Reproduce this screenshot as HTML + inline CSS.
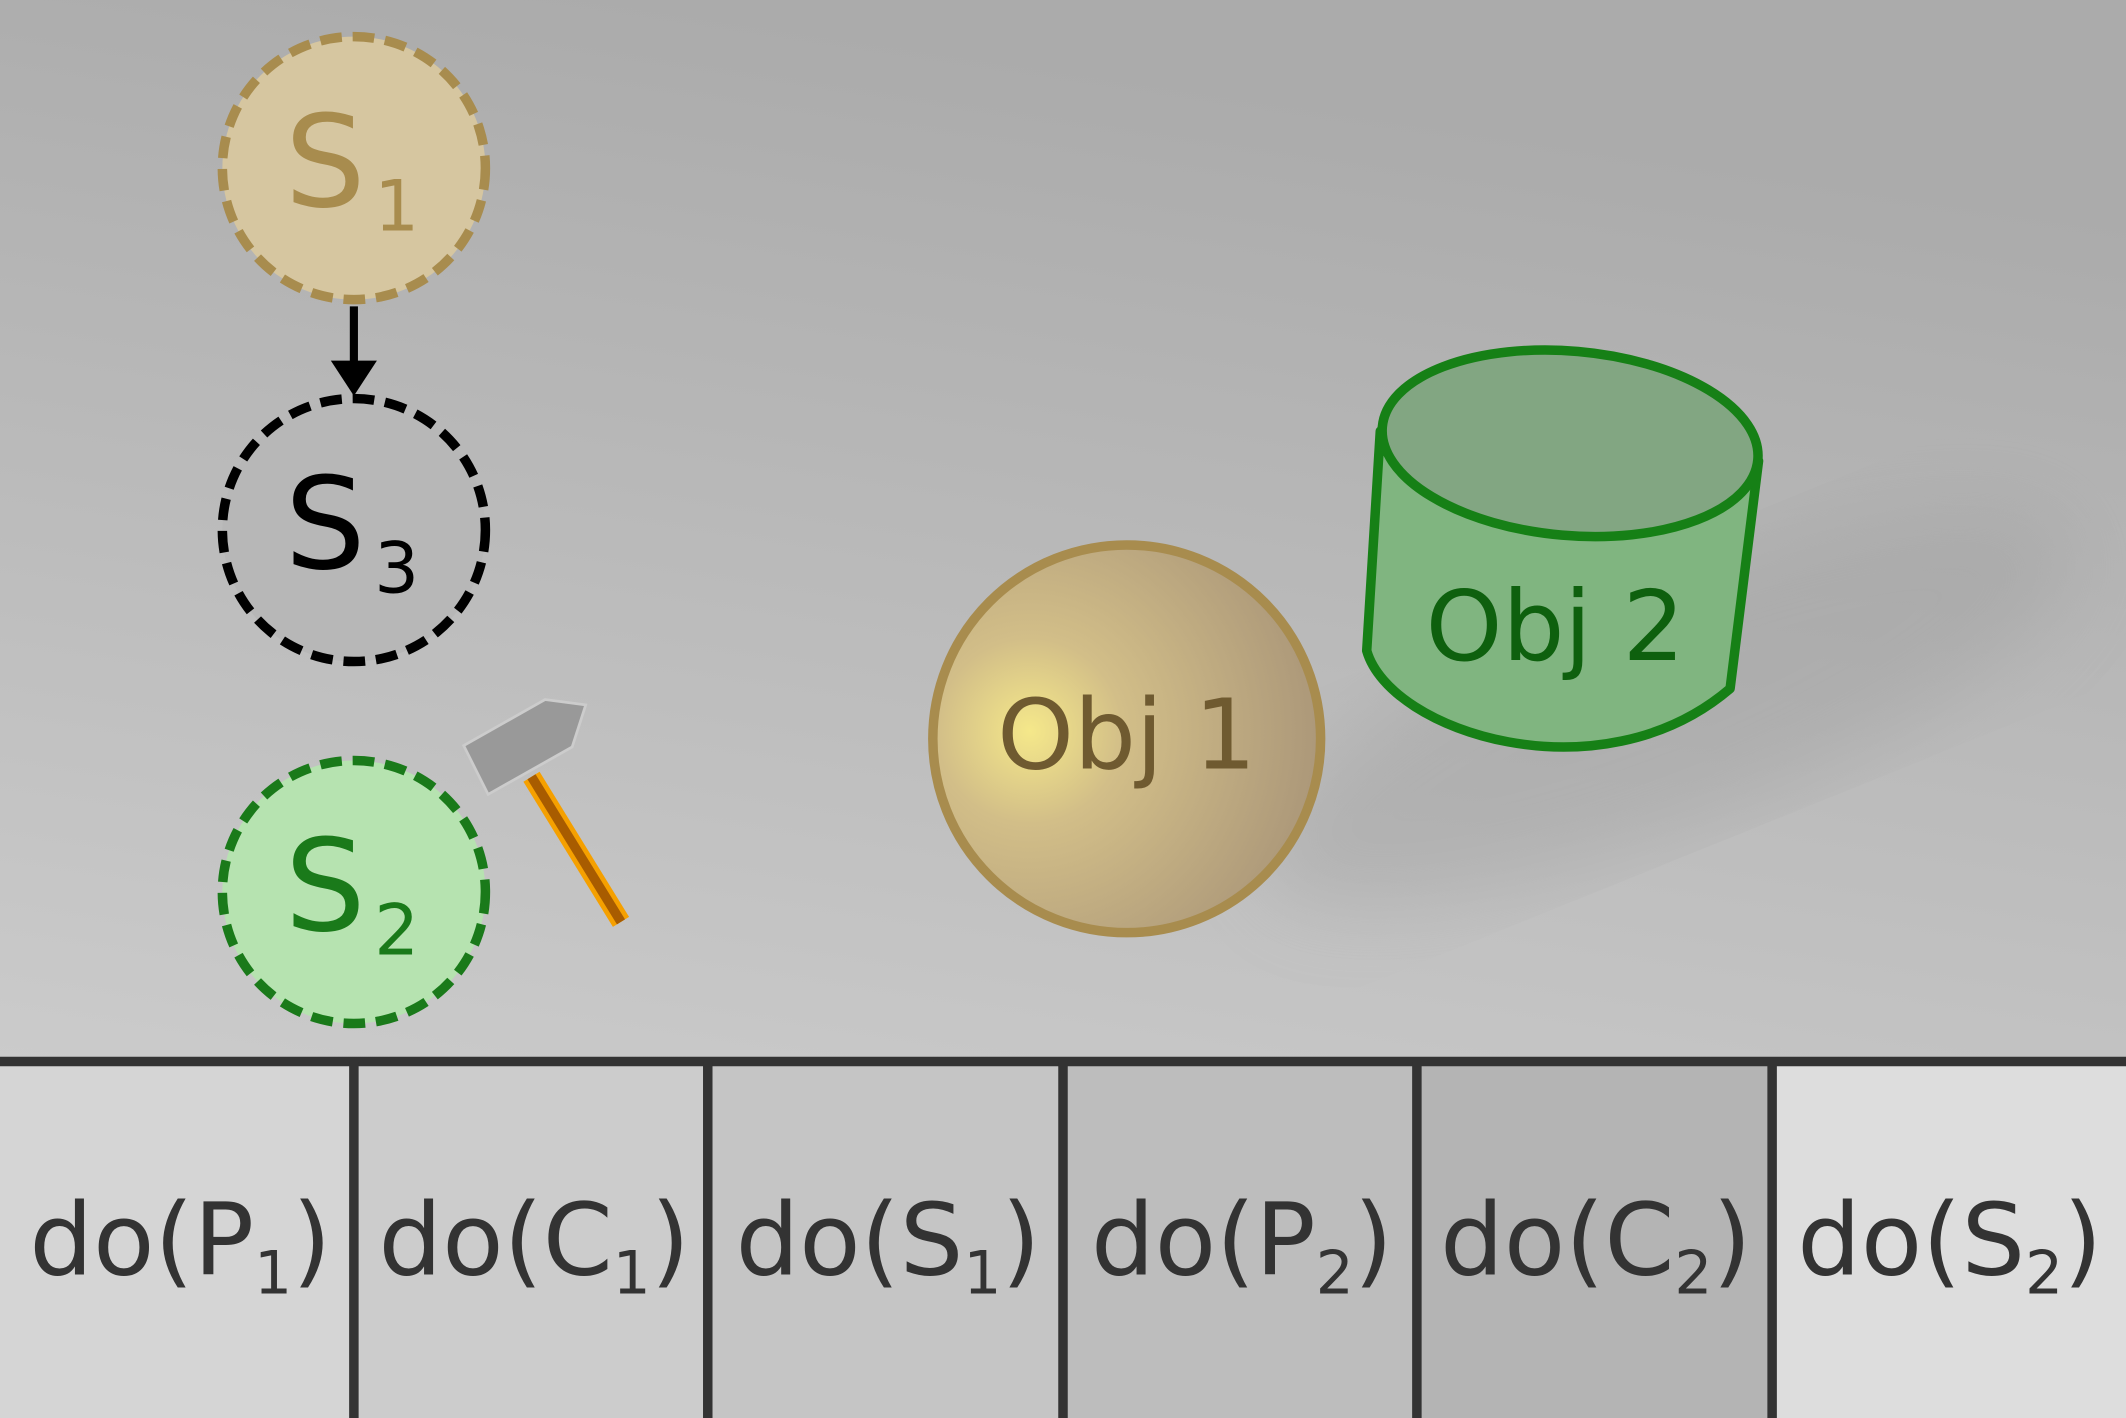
<!DOCTYPE html>
<html><head><meta charset="utf-8"><style>
html,body{margin:0;padding:0;width:2126px;height:1418px;overflow:hidden;background:#bbb}
svg{display:block}
text{font-family:"DejaVu Sans","Liberation Sans",sans-serif}
</style></head><body>
<svg width="2126" height="1418" viewBox="0 0 1568 1046" preserveAspectRatio="none">
<defs>
<linearGradient id="bg" x1="0.3" y1="0" x2="0" y2="1">
<stop offset="0" stop-color="#ababab"/><stop offset="1" stop-color="#cbcbcb"/></linearGradient>
<radialGradient id="ob1" cx="0.25" cy="0.48" r="0.8">
<stop offset="0" stop-color="#f5e88a"/><stop offset="0.3" stop-color="#d2be88"/><stop offset="1" stop-color="#a89478"/></radialGradient>
<filter id="blur"><feGaussianBlur stdDeviation="30"/></filter>
</defs>
<rect x="0" y="0" width="1568" height="783" fill="url(#bg)"/>
<ellipse cx="1230" cy="520" rx="320" ry="90" transform="rotate(-22 1230 520)" fill="#999" opacity="0.35" filter="url(#blur)"/>
<g>
<circle cx="261" cy="124" r="97" fill="#d6c6a0" stroke="#a88c4e" stroke-width="7" stroke-dasharray="16 8"/>
<text x="210" y="152" font-size="94" fill="#a88c4e">S</text><text x="276" y="170" font-size="52" fill="#a88c4e">1</text></g>
<g>
<line x1="261" y1="226" x2="261" y2="270" stroke="#000" stroke-width="6"/>
<polygon points="244,266 278,266 261,292" fill="#000"/></g>
<g>
<circle cx="261" cy="391" r="97" fill="#b7b7b7" stroke="#000" stroke-width="7" stroke-dasharray="16 8"/>
<text x="210" y="419" font-size="94" fill="#000">S</text><text x="276" y="437" font-size="52" fill="#000">3</text></g>
<g>
<circle cx="261" cy="658" r="97" fill="#b6e3b0" stroke="#1a7a1a" stroke-width="7" stroke-dasharray="16 8"/>
<text x="210" y="686" font-size="94" fill="#1a7a1a">S</text><text x="276" y="704" font-size="52" fill="#1a7a1a">2</text></g>
<g>
<line x1="392" y1="573" x2="458" y2="680" stroke="#f5a000" stroke-width="14"/>
<line x1="392" y1="573" x2="458" y2="680" stroke="#a85c00" stroke-width="7"/>
<polygon points="342,550 402,516 432,520 422,551 360,586" fill="#999" stroke="#ccc" stroke-width="2"/></g>
<g>
<circle cx="831" cy="545" r="143" fill="url(#ob1)" stroke="#a88c4e" stroke-width="7"/>
<text x="831" y="567" font-size="72" fill="#6f5a30" text-anchor="middle">Obj 1</text></g>
<g>
<path d="M1018,318 L1008,480 C1025,540 1180,590 1276,508 L1297,340 Z" fill="#80b580" stroke="#168016" stroke-width="7" stroke-linejoin="round"/>
<ellipse cx="1158" cy="327" rx="139" ry="68" transform="rotate(5 1158 327)" fill="#82a682" stroke="#168016" stroke-width="7"/>
<text x="1147" y="487" font-size="72" fill="#0e600e" text-anchor="middle">Obj 2</text></g>
<g>
<rect x="0" y="783" width="261" height="263" fill="#d5d5d5"/>
<rect x="261" y="783" width="261" height="263" fill="#cccccc"/>
<rect x="522" y="783" width="262" height="263" fill="#c5c5c5"/>
<rect x="784" y="783" width="261" height="263" fill="#bdbdbd"/>
<rect x="1045" y="783" width="262" height="263" fill="#b4b4b4"/>
<rect x="1307" y="783" width="261" height="263" fill="#dddddd"/>
<line x1="0" y1="783" x2="1568" y2="783" stroke="#333" stroke-width="7"/>
<g stroke="#333" stroke-width="7">
<line x1="261" y1="783" x2="261" y2="1046"/><line x1="522" y1="783" x2="522" y2="1046"/>
<line x1="784" y1="783" x2="784" y2="1046"/><line x1="1045" y1="783" x2="1045" y2="1046"/>
<line x1="1307" y1="783" x2="1307" y2="1046"/></g>
<g font-size="74" fill="#333" text-anchor="middle">
<text x="133" y="940">do(P<tspan font-size="44" dy="14">1</tspan><tspan dy="-14">)</tspan></text>
<text x="394" y="940">do(C<tspan font-size="44" dy="14">1</tspan><tspan dy="-14">)</tspan></text>
<text x="655" y="940">do(S<tspan font-size="44" dy="14">1</tspan><tspan dy="-14">)</tspan></text>
<text x="916" y="940">do(P<tspan font-size="44" dy="14">2</tspan><tspan dy="-14">)</tspan></text>
<text x="1177" y="940">do(C<tspan font-size="44" dy="14">2</tspan><tspan dy="-14">)</tspan></text>
<text x="1438" y="940">do(S<tspan font-size="44" dy="14">2</tspan><tspan dy="-14">)</tspan></text>
</g></g>
</svg>
</body></html>
